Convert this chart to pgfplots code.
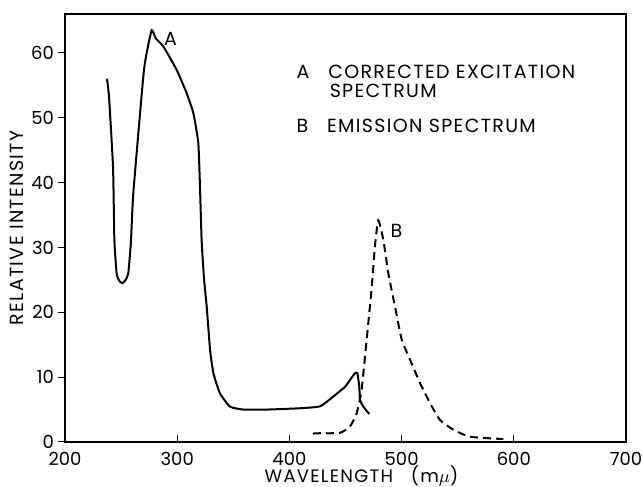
\documentclass[border=0pt]{standalone}
\usepackage{fontspec}
\setmainfont{Poppins}
\newfontfamily\lbl[LetterSpace=7]{Poppins}
\usepackage{pgfplots}
\pgfplotsset{compat=1.18}

\begin{document}
\begin{tikzpicture}
\begin{axis}[name=ax,
  scale only axis,width=280.5pt,height=214pt,
  xmin=200,xmax=700,ymin=0,ymax=66,
  xtick={200,300,...,700},ytick={0,10,...,60},
  xtick pos=bottom,ytick pos=left,
  tick align=inside,major tick length=3.5pt,
  ytick style={xshift=-3.5pt},
  axis line style={line width=0.6pt},
  tick style={line width=0.5pt,black},
  /pgf/number format/assume math mode=true,
  /pgf/number format/1000 sep={},
  tick label style={font=\fontsize{9}{10}\selectfont},
  yticklabel style={xshift=-2pt},
  xticklabel style={yshift=-1.5pt},
  xlabel={\lbl WAVELENGTH\quad(m$\mu$)},
  ylabel={\lbl RELATIVE INTENSITY},
  xlabel style={font=\fontsize{9}{10}\selectfont,yshift=6.5pt,xshift=8pt},
  ylabel style={font=\fontsize{9.5}{10}\selectfont,yshift=-3pt},
  every axis plot/.append style={line width=1pt,black}]
\addplot[smooth,tension=0.3] coordinates {
(237.4,56.0) (239.2,53.3) (242.8,42.4) (244,31.2) (246,26.0) (248.5,24.8)
(251.4,24.5) (254,25) (256.4,26.0) (258.8,31) (260.9,38.4) (269.8,56.4)
(272.8,60) (277.3,63.5) (281,62.2) (287.6,61.0) (299.5,57.4) (308.4,53.8)
(314.4,50.7) (318.8,46.1) (320.3,39.4) (321.8,31) (324,25) (326.3,20.9)
(329.3,14.2) (332.3,10.6) (338.1,7.5) (347.1,5.45) (359,5.0) (380,5.0)
(409.5,5.2) (427.3,5.5) (439.1,7.0) (449.5,8.5) (455,9.8) (458.5,10.6)
(460.6,10.6) (462.3,8.5) (462.9,6.5) (465.9,5.45) (471.2,4.3)};
\addplot[smooth,tension=0.3,dash pattern=on 4pt off 2.5pt] coordinates {
(421,1.3) (427,1.35) (445,1.4) (454,2.4) (459.9,4.4) (464.3,8.0) (468.8,15.7)
(473.2,23.5) (476.2,30.1) (479.2,34.2) (483.7,31.2) (488.2,26.0) (494.1,20.9)
(500.1,15.8) (507.5,12.7) (516.4,9.1) (525.3,6.0) (534.2,3.4) (546.1,1.9)
(561,0.8) (590.7,0.45)};
\node[font=\lbl\fontsize{9.5}{10}\selectfont,anchor=west] at (axis cs:282,62.2) {A};
\node[font=\lbl\fontsize{9.5}{10}\selectfont,anchor=west] at (axis cs:484,32.6) {B};
\node[font=\lbl\fontsize{9.5}{9.5}\selectfont,anchor=north west,align=left,inner sep=0pt]
  at (axis cs:406,58.2) {A\hspace{1em}CORRECTED EXCITATION\\\hspace{1.75em}SPECTRUM};
\node[font=\lbl\fontsize{9.5}{10}\selectfont,anchor=north west,inner sep=0pt]
  at (axis cs:406,49.8) {B\hspace{1em}EMISSION SPECTRUM};
\end{axis}
\pgfresetboundingbox
\path ([shift={(-32.5pt,-22.5pt)}]ax.south west) rectangle ([shift={(8pt,7pt)}]ax.north east);
\end{tikzpicture}
\end{document}
